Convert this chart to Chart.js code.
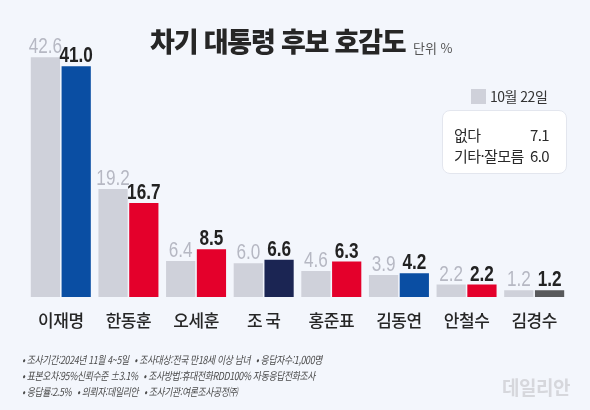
<!DOCTYPE html>
<html lang="ko">
<head>
<meta charset="utf-8">
<script src="https://cdn.jsdelivr.net/npm/chart.js@4/dist/chart.umd.min.js"></script>
<style>
  html, body { margin: 0; padding: 0; background: #f3f6fc; }
  #wrap { position: relative; width: 590px; height: 410px; overflow: hidden; font-family: "Noto Sans CJK KR", "Noto Sans", sans-serif; }
  #chart { position: absolute; left: 0; top: 0; }
  .title { position: absolute; left: 150px; top: 21px; font-size: 27px; font-weight: 900; color: #262626; letter-spacing: -1.2px; white-space: nowrap; }
  .unit { position: absolute; left: 413px; top: 38px; font-size: 13px; color: #555; white-space: nowrap; }
  .legend { position: absolute; left: 471px; top: 86px; font-size: 14px; color: #333; white-space: nowrap; letter-spacing: -0.5px; }
  .legend i { display: inline-block; width: 15px; height: 15px; background: #cfd1da; vertical-align: -2px; margin-right: 4px; }
  .box { position: absolute; left: 442px; top: 110px; width: 125px; height: 64px; background: #fff; border: 1px solid #e3e6ee; border-radius: 8px; box-sizing: border-box; font-size: 15px; color: #2a2a2a; letter-spacing: -0.6px; }
  .box span { position: absolute; white-space: nowrap; }
  .box .k { left: 11px; }
  .box .v { right: 17px; }
  .notes { position: absolute; left: 22px; top: 351px; font-size: 11px; line-height: 16px; color: #4a4a4a; font-style: italic; letter-spacing: -0.4px; white-space: nowrap; transform: scaleX(0.8); transform-origin: left top; }
  .notes span { margin-right: 7px; }
  .mark { position: absolute; left: 502px; top: 373px; font-size: 19px; font-weight: 700; color: #d6d7dc; letter-spacing: -0.5px; }
</style>
</head>
<body>
<div id="wrap">
  <canvas id="chart" width="590" height="410"></canvas>
  <div class="title">차기 대통령 후보 호감도</div>
  <div class="unit">단위 %</div>
  <div class="legend"><i></i>10월 22일</div>
  <div class="box">
    <span class="k" style="top:13px">없다</span><span class="v" style="top:13px">7.1</span>
    <span class="k" style="top:34px">기타·잘모름</span><span class="v" style="top:34px">6.0</span>
  </div>
  <div class="notes">
    <div><span>• 조사기간:2024년 11월 4~5일</span><span>• 조사대상:전국 만18세 이상 남녀</span><span>• 응답자수:1,000명</span></div>
    <div><span>• 표본오차:95%신뢰수준 ±3.1%</span><span>• 조사방법:휴대전화RDD100% 자동응답전화조사</span></div>
    <div><span>• 응답률:2.5%</span><span>• 의뢰자:데일리안</span><span>• 조사기관:여론조사공정㈜</span></div>
  </div>
  <div class="mark">데일리안</div>
</div>
<script>
document.addEventListener('DOMContentLoaded', () => {
    const categories = ['이재명', '한동훈', '오세훈', '조 국', '홍준표', '김동연', '안철수', '김경수'];
    const prevValues = [42.6, 19.2, 6.4, 6.0, 4.6, 3.9, 2.2, 1.2];   // 10월 22일
    const currValues = [41.0, 16.7, 8.5, 6.6, 6.3, 4.2, 2.2, 1.2];   // 이번 조사
    const currColors = ['#0a4ea3', '#e4002b', '#e4002b', '#1b2553', '#e4002b', '#0a4ea3', '#e4002b', '#58595b'];

    // 막대 위 수치 + 아래 후보 이름
    const labelPlugin = {
        id: 'labels',
        afterDatasetsDraw(chart) {
            const ctx = chart.ctx;
            ctx.save();
            ctx.textAlign = 'center';
            ctx.textBaseline = 'alphabetic';
            chart.data.datasets.forEach((ds, di) => {
                const meta = chart.getDatasetMeta(di);
                meta.data.forEach((bar, i) => {
                    // 좁은 숫자체 대신 가로로 눌러서 그림
                    ctx.save();
                    ctx.translate(bar.x, bar.y - 4);
                    ctx.scale(0.78, 1);
                    ctx.font = (di === 0 ? '' : 'bold ') + '22px "Liberation Sans", Arial, sans-serif';
                    ctx.fillStyle = di === 0 ? '#b6b8c3' : '#222';
                    ctx.fillText(ds.data[i].toFixed(1), 0, 0);
                    ctx.restore();
                });
            });
            const x = chart.scales.x;
            ctx.font = '500 17px "Noto Sans CJK KR", sans-serif';
            ctx.letterSpacing = '-0.5px';
            ctx.fillStyle = '#262626';
            categories.forEach((c, i) => {
                ctx.fillText(c, x.getPixelForValue(i), 327);
            });
            ctx.restore();
        }
    };

    new Chart(document.getElementById('chart'), {
        type: 'bar',
        data: {
            labels: categories,
            datasets: [
                { label: '10월 22일', data: prevValues, backgroundColor: '#cfd1da' },
                { label: '11월', data: currValues, backgroundColor: currColors }
            ]
        },
        options: {
            responsive: false,
            animation: false,
            events: [],
            layout: { padding: { left: 27, right: 22, top: 15.5, bottom: 113 } },
            datasets: { bar: { categoryPercentage: 0.91, barPercentage: 0.95 } },
            scales: {
                x: { display: false },
                y: { display: false, min: 0, max: 50 }
            },
            plugins: { legend: { display: false }, tooltip: { enabled: false } }
        },
        plugins: [labelPlugin]
    });
});
</script>
</body>
</html>
